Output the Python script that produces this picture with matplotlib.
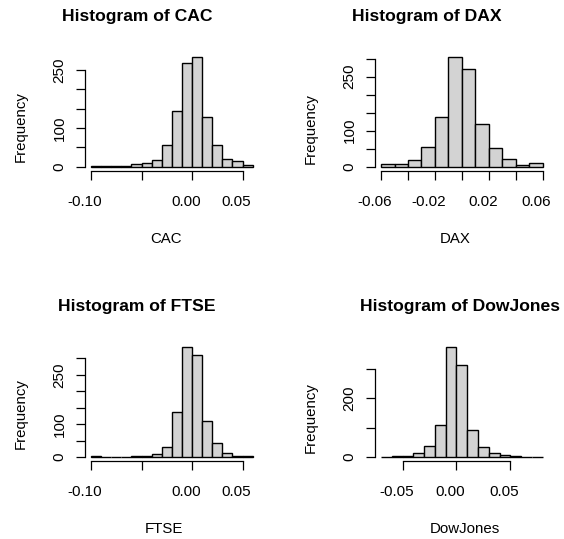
import numpy as np
import matplotlib
matplotlib.use('Agg')
import matplotlib.pyplot as plt
import matplotlib.transforms as mtransforms

plt.rcParams['font.family'] = ['Liberation Sans', 'DejaVu Sans']

# histogram counts (bin width 0.01)
names = ['CAC', 'DAX', 'FTSE', 'DowJones']
cac_start = -0.10
cac_counts = [2, 1, 1, 3, 6, 9, 17, 57, 144, 267, 284, 128, 57, 20, 14, 5]
dax_start = -0.06
dax_counts = [7, 8, 18, 54, 139, 305, 271, 118, 52, 22, 6, 9]
ftse_start = -0.10
ftse_counts = [2, 1, 1, 1, 2, 4, 10, 31, 136, 335, 310, 111, 43, 12, 4, 3]
dj_start = -0.07
dj_counts = [1, 2, 3, 12, 38, 108, 375, 312, 93, 34, 12, 8, 4, 1, 1]

# axis ticks and the labels R kept
cac_xticks = [-0.10, -0.05, 0.00, 0.05]
cac_xlabels = ['-0.10', '', '0.00', '0.05']
dax_xticks = [-0.06, -0.04, -0.02, 0.00, 0.02, 0.04, 0.06]
dax_xlabels = ['-0.06', '', '-0.02', '', '0.02', '', '0.06']
dj_xticks = [-0.05, 0.00, 0.05]
dj_xlabels = ['-0.05', '0.00', '0.05']
y300 = [0, 50, 100, 150, 200, 250, 300]
y300_labels = ['0', '', '100', '', '', '250', '']
y250 = [0, 50, 100, 150, 200, 250]
y250_labels = ['0', '', '100', '', '', '250']
dj_yticks = [0, 100, 200, 300]
dj_ylabels = ['0', '', '200', '']

panels = [
    (cac_start, cac_counts, cac_xticks, cac_xlabels, y250, y250_labels),
    (dax_start, dax_counts, dax_xticks, dax_xlabels, y300, y300_labels),
    (ftse_start, ftse_counts, cac_xticks, cac_xlabels, y300, y300_labels),
    (dj_start, dj_counts, dj_xticks, dj_xlabels, dj_yticks, dj_ylabels),
]

W, H = 564, 539
fig = plt.figure(figsize=(W / 100, H / 100), dpi=100)

# plot regions in pixels (left, top)
lefts = [84.6, 374.6, 84.6, 374.6]
tops = [52.3, 52.3, 342.6, 342.6]
pw, ph = 174.5, 118.8
# text positions in pixels
title_x = [137, 427, 136.7, 460.3]
xlab_x = [165.8, 455.3, 164.2, 464.5]
ylab_y = [126.7, 128.3, 414, 417.5]
row_off = [0, 0, 290, 290]
col_off = [0, 290, 0, 290]

shift = mtransforms.ScaledTranslation(-6 / 100, 0, fig.dpi_scale_trans)

for i, (start, counts, xt, xl, yt, yl) in enumerate(panels):
    ax = fig.add_axes([lefts[i] / W, 1 - (tops[i] + ph) / H, pw / W, ph / H])
    n = len(counts)
    edges = np.round(start + 0.01 * np.arange(n + 1), 4)
    ax.bar(edges[:-1], counts, width=0.01, align='edge',
           color='#d3d3d3', edgecolor='black', linewidth=1.0)
    lo, hi = edges[0], edges[-1]
    r = hi - lo
    ax.set_xlim(lo - 0.04 * r, hi + 0.04 * r)
    m = max(counts)
    ax.set_ylim(-0.04 * m, 1.04 * m)
    for s in ['top', 'right']:
        ax.spines[s].set_visible(False)
    ax.spines['bottom'].set_bounds(xt[0], xt[-1])
    ax.spines['left'].set_bounds(yt[0], yt[-1])
    ax.spines['bottom'].set_linewidth(0.9)
    ax.spines['left'].set_linewidth(0.9)
    ax.set_xticks(xt, xl)
    ax.set_yticks(yt, yl)
    ax.tick_params(axis='x', length=6.5, width=0.9, pad=10.5, labelsize=11)
    ax.tick_params(axis='y', length=6.5, width=0.9, pad=6.5, labelsize=11,
                   labelrotation=90)
    for lab in ax.get_xticklabels():
        lab.set_transform(lab.get_transform() + shift)
    for lab in ax.get_yticklabels():
        lab.set_va('center')

    fig.text(title_x[i] / W, 1 - (21.5 + row_off[i]) / H,
             'Histogram of ' + names[i], ha='center', va='baseline',
             fontsize=12.6, fontweight='bold')
    fig.text(xlab_x[i] / W, 1 - (243.3 + row_off[i]) / H, names[i],
             ha='center', va='baseline', fontsize=10.8)
    fig.text((20.5 + col_off[i]) / W, 1 - ylab_y[i] / H, 'Frequency',
             rotation=90, ha='center', va='center', fontsize=10.8)

fig.savefig('out.png', dpi=100)
